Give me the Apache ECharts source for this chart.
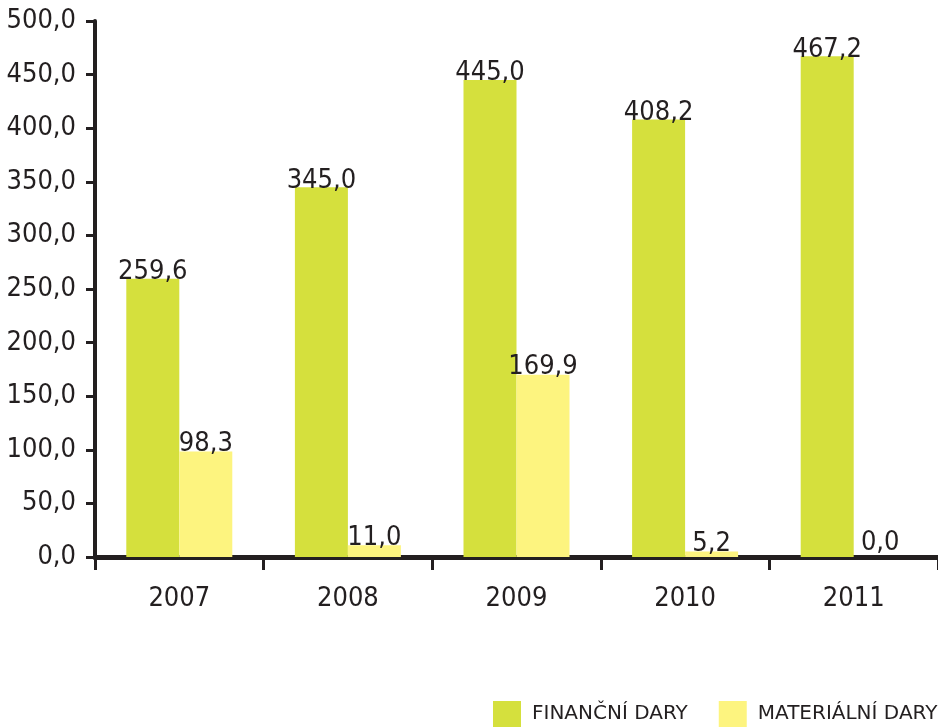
<!DOCTYPE html>
<html>
<head>
<meta charset="utf-8">
<script src="https://cdn.jsdelivr.net/npm/echarts@6/dist/echarts.min.js"></script>
<style>
html, body { margin: 0; padding: 0; background: #fff; }
#chart { width: 938px; height: 727px; }
</style>
</head>
<body>
<div id="chart"></div>
<script>
var years = ['2007', '2008', '2009', '2010', '2011'];
var financni = [259.6, 345.0, 445.0, 408.2, 467.2];
var materialni = [98.3, 11.0, 169.9, 5.2, 0.0];
var seriesNames = ['FINANČNÍ DARY', 'MATERIÁLNÍ DARY'];

var font = '"DejaVu Sans Condensed", "DejaVu Sans", sans-serif';
var ink = '#231f20';

function fmt(v) {
    return Number(v).toFixed(1).replace('.', ',');
}

// nulovy sloupec ma popisek kousek nad osou
function withLabels(arr) {
    return arr.map(function (v) {
        return v === 0 ? { value: v, label: { distance: 1 } } : v;
    });
}

var myChart = echarts.init(document.getElementById('chart'));
myChart.setOption({
    animation: false,
    textStyle: { fontFamily: font },
    grid: { left: 95, top: 21, width: 845, height: 536, containLabel: false },
    legend: {
        left: 493,
        top: 701,
        padding: 0,
        itemWidth: 28,
        itemHeight: 26,
        itemGap: 31,
        icon: 'rect',
        data: seriesNames,
        textStyle: { fontFamily: '"DejaVu Sans", sans-serif', fontSize: 20, color: ink, padding: [0, 0, 0, 6] }
    },
    xAxis: {
        type: 'category',
        data: years,
        axisLine: { lineStyle: { color: ink, width: 5 } },
        axisTick: { show: true, length: 13, lineStyle: { color: ink, width: 3 } },
        axisLabel: { fontFamily: font, fontSize: 27, color: ink, margin: 28 }
    },
    yAxis: {
        type: 'value',
        min: 0,
        max: 500,
        interval: 50,
        splitLine: { show: false },
        axisLine: { show: true, lineStyle: { color: ink, width: 4 } },
        axisTick: { show: true, length: 9, lineStyle: { color: ink, width: 3 } },
        axisLabel: { fontFamily: font, fontSize: 27, color: ink, margin: 19, formatter: fmt }
    },
    series: [
        {
            name: seriesNames[0],
            type: 'bar',
            barWidth: 53,
            barGap: '0%',
            itemStyle: { color: '#d5e03d' },
            label: {
                show: true, position: 'top', distance: -7,
                fontFamily: font, fontSize: 27, color: ink,
                formatter: function (p) { return fmt(p.value); }
            },
            data: withLabels(financni)
        },
        {
            name: seriesNames[1],
            type: 'bar',
            barWidth: 53,
            itemStyle: { color: '#fdf47f' },
            label: {
                show: true, position: 'top', distance: -6,
                fontFamily: font, fontSize: 27, color: ink,
                formatter: function (p) { return fmt(p.value); }
            },
            data: withLabels(materialni)
        }
    ]
});
</script>
</body>
</html>
